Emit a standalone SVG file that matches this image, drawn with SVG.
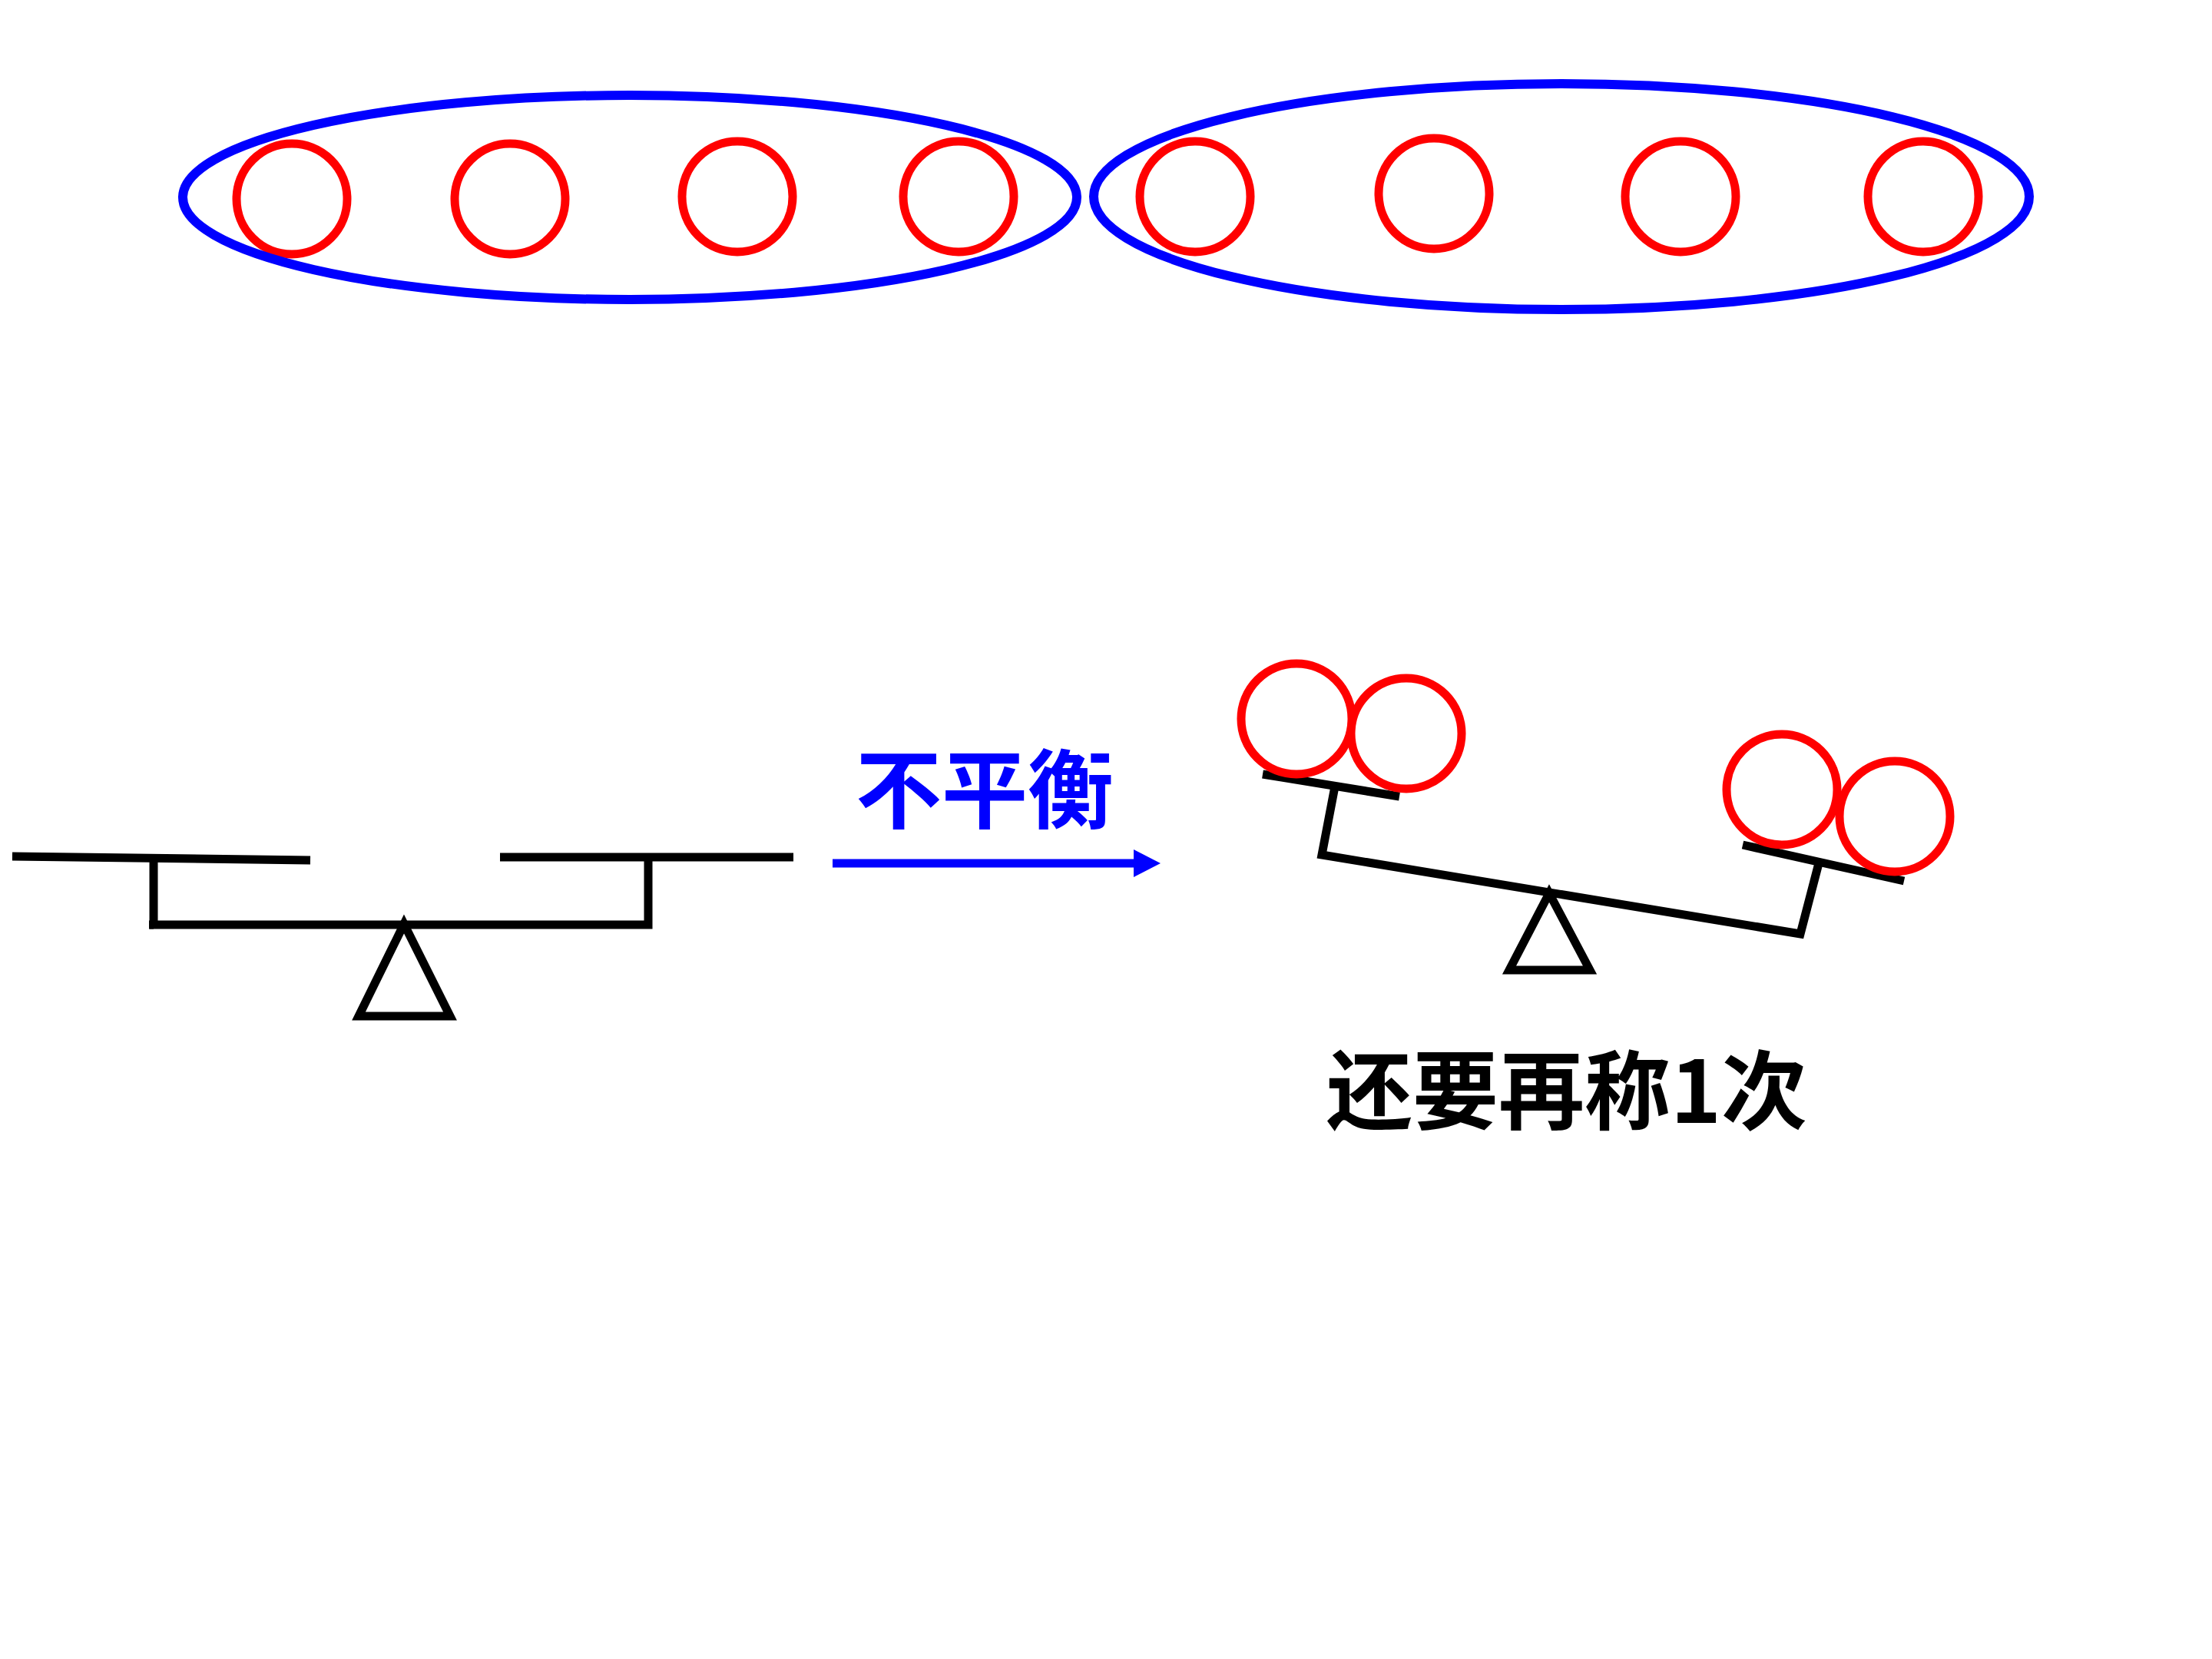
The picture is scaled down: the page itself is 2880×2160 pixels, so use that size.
<svg xmlns="http://www.w3.org/2000/svg" width="2880" height="2160" viewBox="0 0 2880 2160">
<style>
.ball{fill:none;stroke:#ff0000;stroke-width:11}
.grp{fill:none;stroke:#0000ff;stroke-width:12}
.bar{fill:none;stroke:#000;stroke-width:11;stroke-linecap:butt}
.tri{fill:none;stroke:#000;stroke-width:11;stroke-linejoin:miter;stroke-miterlimit:10}
.lbl{font-family:"Noto Sans CJK SC","Noto Sans",sans-serif;font-weight:700;font-size:112px;text-anchor:middle}
</style>
<rect width="2880" height="2160" fill="#fff"/>
<g id="balls-left">
<circle class="ball" cx="380" cy="259" r="72"/>
<circle class="ball" cx="664" cy="259" r="72"/>
<circle class="ball" cx="960" cy="256" r="72"/>
<circle class="ball" cx="1248" cy="256" r="72"/>
</g>
<g id="balls-right">
<circle class="ball" cx="1556" cy="256" r="72"/>
<circle class="ball" cx="1867" cy="252" r="72"/>
<circle class="ball" cx="2188" cy="256" r="72"/>
<circle class="ball" cx="2504" cy="256" r="72"/>
</g>
<g id="group-left"><ellipse class="grp" cx="820" cy="257" rx="582" ry="133"/></g>
<g id="group-right"><ellipse class="grp" cx="2033" cy="256" rx="609" ry="147"/></g>
<g id="balance-level">
<line class="bar" x1="16" y1="1115" x2="404" y2="1120"/>
<line class="bar" x1="651" y1="1116" x2="1033" y2="1116"/>
<polyline class="bar" points="200,1117 200,1204 844,1204 844,1117"/>
<line class="bar" x1="194" y1="1204" x2="200" y2="1204"/>
<polygon class="tri" points="526,1203 467,1323 586,1323"/>
</g>
<g id="connectors">
<line x1="1084" y1="1124" x2="1478" y2="1124" stroke="#0000ff" stroke-width="11"/>
<polygon points="1476,1106 1511,1124 1476,1142" fill="#0000ff"/>
</g>
<g id="label-unbalanced"><text class="lbl" x="1282" y="1070" fill="#0000ff">不平衡</text></g>
<g id="balance-tilted">
<line class="bar" x1="1644" y1="1008" x2="1822" y2="1037"/>
<line class="bar" x1="2269" y1="1100" x2="2479" y2="1147"/>
<polyline class="bar" points="1738,1024 1721,1113 2344,1216 2368,1124"/>
<polygon class="tri" points="2017,1163 1965,1263 2070,1263"/>
<circle class="ball" cx="1688" cy="936" r="72"/>
<circle class="ball" cx="1831" cy="955" r="72"/>
<circle class="ball" cx="2320" cy="1028" r="72"/>
<circle class="ball" cx="2467" cy="1063" r="72"/>
</g>
<g id="label-again"><text class="lbl" x="2040" y="1462" fill="#000">还要再称1次</text></g>
</svg>
